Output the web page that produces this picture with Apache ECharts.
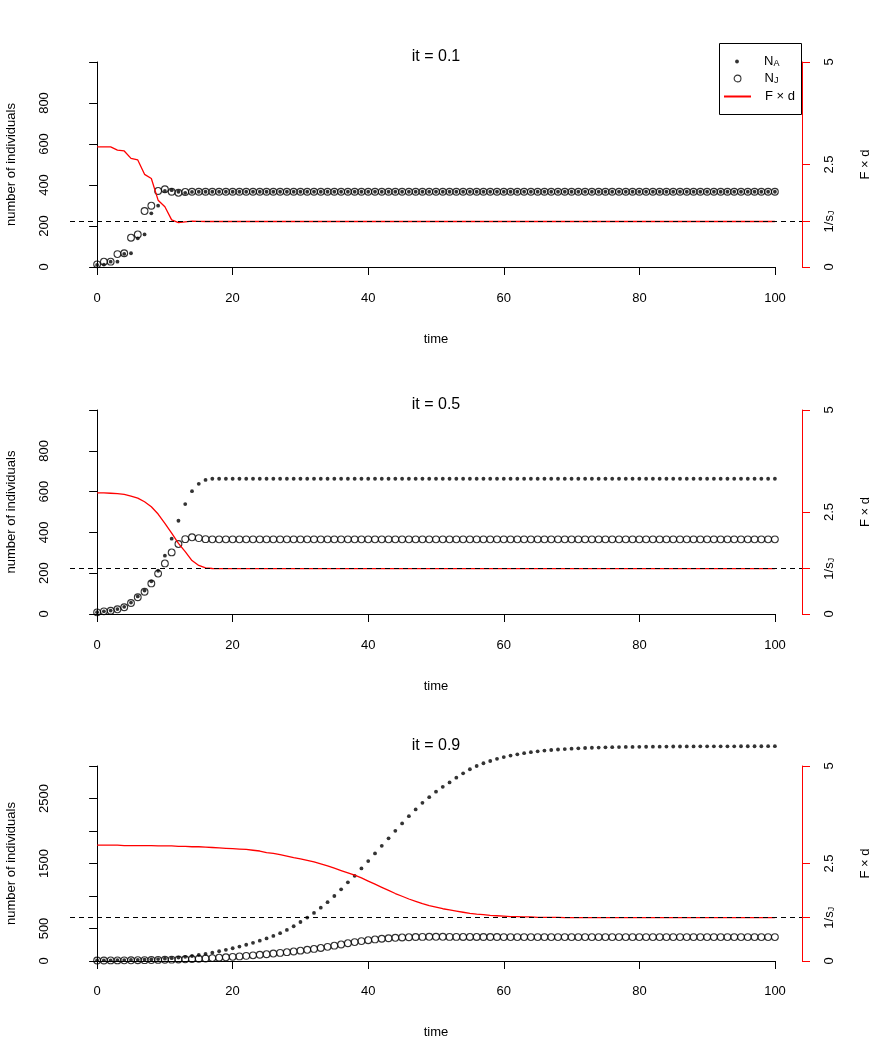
<!DOCTYPE html>
<html>
<head>
<meta charset="utf-8">
<script src="https://cdn.jsdelivr.net/npm/echarts@6/dist/echarts.min.js"></script>
<style>
html, body { margin: 0; padding: 0; background: #fff; }
#chart { width: 872px; height: 1041px; }
</style>
</head>
<body>
<div id="chart"></div>
<script>
// time steps
const time = [
  0, 1, 2, 3, 4, 5, 6, 7, 8, 9,
  10, 11, 12, 13, 14, 15, 16, 17, 18, 19,
  20, 21, 22, 23, 24, 25, 26, 27, 28, 29,
  30, 31, 32, 33, 34, 35, 36, 37, 38, 39,
  40, 41, 42, 43, 44, 45, 46, 47, 48, 49,
  50, 51, 52, 53, 54, 55, 56, 57, 58, 59,
  60, 61, 62, 63, 64, 65, 66, 67, 68, 69,
  70, 71, 72, 73, 74, 75, 76, 77, 78, 79,
  80, 81, 82, 83, 84, 85, 86, 87, 88, 89,
  90, 91, 92, 93, 94, 95, 96, 97, 98, 99,
  100
];

// it = 0.1
const na1 = [
  10, 12, 26, 26, 64, 67, 140, 159, 262, 299,
  371, 375, 367, 362, 366, 367, 367, 367, 367, 367,
  367, 367, 367, 367, 367, 367, 367, 367, 367, 367,
  367, 367, 367, 367, 367, 367, 367, 367, 367, 367,
  367, 367, 367, 367, 367, 367, 367, 367, 367, 367,
  367, 367, 367, 367, 367, 367, 367, 367, 367, 367,
  367, 367, 367, 367, 367, 367, 367, 367, 367, 367,
  367, 367, 367, 367, 367, 367, 367, 367, 367, 367,
  367, 367, 367, 367, 367, 367, 367, 367, 367, 367,
  367, 367, 367, 367, 367, 367, 367, 367, 367, 367,
  367
];
const nj1 = [
  13, 26, 26, 63, 67, 143, 159, 273, 299, 371,
  379, 367, 362, 366, 367, 367, 367, 367, 367, 367,
  367, 367, 367, 367, 367, 367, 367, 367, 367, 367,
  367, 367, 367, 367, 367, 367, 367, 367, 367, 367,
  367, 367, 367, 367, 367, 367, 367, 367, 367, 367,
  367, 367, 367, 367, 367, 367, 367, 367, 367, 367,
  367, 367, 367, 367, 367, 367, 367, 367, 367, 367,
  367, 367, 367, 367, 367, 367, 367, 367, 367, 367,
  367, 367, 367, 367, 367, 367, 367, 367, 367, 367,
  367, 367, 367, 367, 367, 367, 367, 367, 367, 367,
  367
];
const fd1 = [
  2.93, 2.93, 2.93, 2.85, 2.83, 2.65, 2.61, 2.26, 2.16, 1.63,
  1.47, 1.15, 1.08, 1.10, 1.12, 1.115, 1.11, 1.11, 1.11, 1.11,
  1.11, 1.11, 1.11, 1.11, 1.11, 1.11, 1.11, 1.11, 1.11, 1.11,
  1.11, 1.11, 1.11, 1.11, 1.11, 1.11, 1.11, 1.11, 1.11, 1.11,
  1.11, 1.11, 1.11, 1.11, 1.11, 1.11, 1.11, 1.11, 1.11, 1.11,
  1.11, 1.11, 1.11, 1.11, 1.11, 1.11, 1.11, 1.11, 1.11, 1.11,
  1.11, 1.11, 1.11, 1.11, 1.11, 1.11, 1.11, 1.11, 1.11, 1.11,
  1.11, 1.11, 1.11, 1.11, 1.11, 1.11, 1.11, 1.11, 1.11, 1.11,
  1.11, 1.11, 1.11, 1.11, 1.11, 1.11, 1.11, 1.11, 1.11, 1.11,
  1.11, 1.11, 1.11, 1.11, 1.11, 1.11, 1.11, 1.11, 1.11, 1.11,
  1.11
];

// it = 0.5
const na2 = [
  9, 13, 17, 24, 35, 56, 86, 115, 160, 212,
  286, 369, 457, 539, 602, 638, 657, 663, 663, 663,
  663, 663, 663, 663, 663, 663, 663, 663, 663, 663,
  663, 663, 663, 663, 663, 663, 663, 663, 663, 663,
  663, 663, 663, 663, 663, 663, 663, 663, 663, 663,
  663, 663, 663, 663, 663, 663, 663, 663, 663, 663,
  663, 663, 663, 663, 663, 663, 663, 663, 663, 663,
  663, 663, 663, 663, 663, 663, 663, 663, 663, 663,
  663, 663, 663, 663, 663, 663, 663, 663, 663, 663,
  663, 663, 663, 663, 663, 663, 663, 663, 663, 663,
  663
];
const nj2 = [
  8, 13, 16, 23, 33, 54, 82, 109, 150, 198,
  248, 302, 343, 367, 376, 372, 367, 366, 366, 366,
  366, 366, 366, 366, 366, 366, 366, 366, 366, 366,
  366, 366, 366, 366, 366, 366, 366, 366, 366, 366,
  366, 366, 366, 366, 366, 366, 366, 366, 366, 366,
  366, 366, 366, 366, 366, 366, 366, 366, 366, 366,
  366, 366, 366, 366, 366, 366, 366, 366, 366, 366,
  366, 366, 366, 366, 366, 366, 366, 366, 366, 366,
  366, 366, 366, 366, 366, 366, 366, 366, 366, 366,
  366, 366, 366, 366, 366, 366, 366, 366, 366, 366,
  366
];
const fd2 = [
  2.97, 2.97, 2.96, 2.95, 2.93, 2.89, 2.84, 2.75, 2.63, 2.45,
  2.22, 1.98, 1.73, 1.53, 1.31, 1.19, 1.13, 1.115, 1.11, 1.11,
  1.11, 1.11, 1.11, 1.11, 1.11, 1.11, 1.11, 1.11, 1.11, 1.11,
  1.11, 1.11, 1.11, 1.11, 1.11, 1.11, 1.11, 1.11, 1.11, 1.11,
  1.11, 1.11, 1.11, 1.11, 1.11, 1.11, 1.11, 1.11, 1.11, 1.11,
  1.11, 1.11, 1.11, 1.11, 1.11, 1.11, 1.11, 1.11, 1.11, 1.11,
  1.11, 1.11, 1.11, 1.11, 1.11, 1.11, 1.11, 1.11, 1.11, 1.11,
  1.11, 1.11, 1.11, 1.11, 1.11, 1.11, 1.11, 1.11, 1.11, 1.11,
  1.11, 1.11, 1.11, 1.11, 1.11, 1.11, 1.11, 1.11, 1.11, 1.11,
  1.11, 1.11, 1.11, 1.11, 1.11, 1.11, 1.11, 1.11, 1.11, 1.11,
  1.11
];

// it = 0.9
const na3 = [
  10, 10, 11, 12, 14, 16, 18, 21, 25, 30,
  36, 44, 53, 64, 77, 92, 108, 128, 150, 172,
  196, 222, 250, 280, 312, 348, 386, 428, 478, 535,
  600, 668, 740, 820, 905, 1000, 1103, 1210, 1310, 1425,
  1538, 1655, 1772, 1888, 2003, 2116, 2228, 2332, 2434, 2520,
  2605, 2680, 2748, 2820, 2888, 2950, 3000, 3042, 3077, 3110,
  3137, 3160, 3180, 3198, 3213, 3226, 3237, 3246, 3254, 3261,
  3267, 3272, 3277, 3281, 3284, 3287, 3289, 3291, 3293, 3294,
  3295, 3296, 3297, 3298, 3299, 3300, 3300, 3301, 3301, 3302,
  3302, 3302, 3303, 3303, 3303, 3304, 3304, 3304, 3304, 3305,
  3305
];
const nj3 = [
  8, 8, 9, 9, 10, 11, 12, 13, 15, 17,
  19, 21, 23, 26, 30, 34, 39, 45, 51, 57,
  64, 71, 79, 87, 96, 105, 115, 125, 136, 147,
  159, 172, 186, 201, 218, 236, 255, 274, 291, 306,
  320, 332, 342, 350, 357, 362, 366, 369, 371, 372,
  372, 372, 371, 371, 370, 370, 370, 369, 369, 369,
  368, 368, 368, 368, 368, 368, 368, 368, 368, 368,
  368, 368, 368, 368, 368, 368, 368, 368, 368, 368,
  368, 368, 368, 368, 368, 368, 368, 368, 368, 368,
  368, 368, 368, 368, 368, 368, 368, 368, 368, 368,
  368
];
const fd3 = [
  2.97, 2.97, 2.97, 2.97, 2.96, 2.96, 2.96, 2.96, 2.96, 2.95,
  2.95, 2.95, 2.94, 2.94, 2.93, 2.93, 2.92, 2.91, 2.90, 2.89,
  2.88, 2.87, 2.86, 2.84, 2.82, 2.78, 2.76, 2.73, 2.69, 2.65,
  2.62, 2.58, 2.54, 2.49, 2.44, 2.38, 2.32, 2.26, 2.20, 2.13,
  2.05, 1.97, 1.89, 1.81, 1.73, 1.66, 1.59, 1.53, 1.47, 1.42,
  1.38, 1.34, 1.31, 1.28, 1.25, 1.22, 1.20, 1.19, 1.17, 1.16,
  1.15, 1.14, 1.14, 1.13, 1.13, 1.12, 1.12, 1.12, 1.12, 1.11,
  1.11, 1.11, 1.11, 1.11, 1.11, 1.11, 1.11, 1.11, 1.11, 1.11,
  1.11, 1.11, 1.11, 1.11, 1.11, 1.11, 1.11, 1.11, 1.11, 1.11,
  1.11, 1.11, 1.11, 1.11, 1.11, 1.11, 1.11, 1.11, 1.11, 1.11,
  1.11
];

const invSJ = 1.11;            // 1/s_J reference level
const rightTicks = [0, invSJ, 2.5, 5];

// layout of the three panels
const panels = [
  { title: 'it = 0.1', top: 62, h: 205, titleTop: 49, yMax: 1000, yStep: 200,
    yLabels: [0, 200, 400, 600, 800], na: na1, nj: nj1, fd: fd1 },
  { title: 'it = 0.5', top: 410, h: 204, titleTop: 397, yMax: 1000, yStep: 200,
    yLabels: [0, 200, 400, 600, 800], na: na2, nj: nj2, fd: fd2 },
  { title: 'it = 0.9', top: 766, h: 195, titleTop: 738, yMax: 3000, yStep: 500,
    yLabels: [0, 500, 1500, 2500], na: na3, nj: nj3, fd: fd3 }
];

const FONT = '"Liberation Sans", Arial, Helvetica, sans-serif';
const FS = 13;
const DOT = 3.8, RING = 6.8;
const subRich = {
  n: { fontSize: FS, fontFamily: FONT, color: '#000' },
  s: { fontSize: 9, fontFamily: FONT, color: '#000', verticalAlign: 'bottom', lineHeight: 6 }
};

const grid = [], xAxis = [], yAxis = [], series = [], title = [];

panels.forEach((p, k) => {
  const bottom = 1041 - p.top - p.h;
  // plot region (R style, 4% padding on x)
  grid.push({ left: 70, right: 70, top: p.top, bottom: bottom, outerBoundsMode: 'none' });
  // axis frame for 0..100
  grid.push({ left: 97, right: 97, top: p.top, bottom: bottom, outerBoundsMode: 'none' });

  xAxis.push({ type: 'value', gridIndex: 2 * k, min: -4, max: 104, show: false });
  xAxis.push({
    type: 'value', gridIndex: 2 * k + 1, min: 0, max: 100, interval: 20,
    offset: k === 2 ? 9 : 10, position: 'bottom',
    axisLine: { lineStyle: { color: '#000', width: 1 } },
    axisTick: { length: 8, lineStyle: { color: '#000' } },
    axisLabel: { color: '#000', fontSize: FS, fontFamily: FONT, margin: 15 },
    splitLine: { show: false },
    name: 'time', nameLocation: 'middle', nameGap: 56,
    nameTextStyle: { color: '#000', fontSize: FS, fontFamily: FONT }
  });

  yAxis.push({
    type: 'value', gridIndex: 2 * k, position: 'left', min: 0, max: p.yMax, interval: p.yStep,
    axisLine: { show: true, lineStyle: { color: '#000', width: 1 } },
    axisTick: { show: true, length: 8, lineStyle: { color: '#000' } },
    axisLabel: { color: '#000', fontSize: FS, fontFamily: FONT, rotate: 90, margin: 19,
                 customValues: p.yLabels, formatter: v => String(v) },
    splitLine: { show: false },
    name: 'number of individuals', nameLocation: 'middle', nameGap: 52, nameRotate: 90,
    nameTextStyle: { color: '#000', fontSize: FS, fontFamily: FONT }
  });
  yAxis.push({
    type: 'value', gridIndex: 2 * k, position: 'right', min: 0, max: 5,
    axisLine: { show: true, lineStyle: { color: '#ff0000', width: 1 } },
    axisTick: { show: true, length: 8, lineStyle: { color: '#ff0000' }, customValues: rightTicks },
    axisLabel: {
      color: '#000', fontSize: FS, fontFamily: FONT, rotate: 90, margin: 21,
      customValues: rightTicks,
      formatter: v => Math.abs(v - invSJ) < 0.001 ? '{n|1/s}{s|J}' : String(v),
      rich: subRich
    },
    splitLine: { show: false },
    name: 'F × d', nameLocation: 'middle', nameGap: 57, nameRotate: 90,
    nameTextStyle: { color: '#000', fontSize: FS, fontFamily: FONT }
  });
  yAxis.push({ type: 'value', gridIndex: 2 * k + 1, min: 0, max: 1, show: false });

  title.push({
    text: p.title, left: 'center', top: p.titleTop, padding: 0,
    textStyle: { color: '#000', fontSize: 16, fontWeight: 'normal', fontFamily: FONT }
  });

  series.push({
    name: 'NA', type: 'scatter', xAxisIndex: 2 * k, yAxisIndex: 3 * k, clip: false,
    symbol: 'circle', symbolSize: DOT,
    itemStyle: { color: '#000' },
    data: time.map((t, i) => [t, p.na[i]])
  });
  series.push({
    name: 'NJ', type: 'scatter', xAxisIndex: 2 * k, yAxisIndex: 3 * k, clip: false,
    symbol: 'circle', symbolSize: RING,
    itemStyle: { color: 'rgba(0,0,0,0)', borderColor: '#000', borderWidth: 1.1 },
    data: time.map((t, i) => [t, p.nj[i]])
  });
  series.push({
    name: 'Fd', type: 'line', xAxisIndex: 2 * k, yAxisIndex: 3 * k + 1,
    symbol: 'none', smooth: false,
    lineStyle: { color: '#ff0000', width: 1.3 },
    itemStyle: { color: '#ff0000' },
    data: time.map((t, i) => [t, p.fd[i]]),
    markLine: {
      silent: true, symbol: 'none', animation: false,
      label: { show: false },
      lineStyle: { color: '#000', type: [5, 4], width: 1 },
      data: [{ yAxis: invSJ }]
    }
  });
});

// legend: three single-item legends so each key keeps its own size
const legendNames = { NA: '{n|N}{s|A}', NJ: '{n|N}{s|J}', Fd: '{n|F × d}' };
function legendItem(name, size, width, left, pad, top, border) {
  return {
    data: [name], left: left, top: top, padding: 0, z: 10,
    itemWidth: width, itemHeight: size, selectedMode: false,
    itemStyle: border ? { borderWidth: border } : {},
    formatter: n => legendNames[n],
    textStyle: {
      color: '#000', fontSize: FS, fontFamily: FONT,
      rich: {
        n: { fontSize: FS, fontFamily: FONT, color: '#000', padding: [0, 0, 0, pad] },
        s: subRich.s
      }
    }
  };
}

const chart = echarts.init(document.getElementById('chart'), null, { renderer: 'canvas' });
chart.setOption({
  animation: false,
  backgroundColor: '#fff',
  title: title,
  grid: grid,
  xAxis: xAxis,
  yAxis: yAxis,
  legend: [
    legendItem('NA', DOT, DOT, 737 - DOT / 2, 22 - DOT / 2, 55, 0),
    legendItem('NJ', RING, RING, 737 - RING / 2, 22 - RING / 2, 72, 1.1),
    legendItem('Fd', 1.3, 27, 723, 9, 90, 0)
  ],
  graphic: [{
    type: 'rect', z: 5,
    shape: { x: 719.5, y: 43.5, width: 82, height: 71 },
    style: { fill: '#fff', stroke: '#000', lineWidth: 1 }
  }],
  series: series
});
</script>
</body>
</html>
